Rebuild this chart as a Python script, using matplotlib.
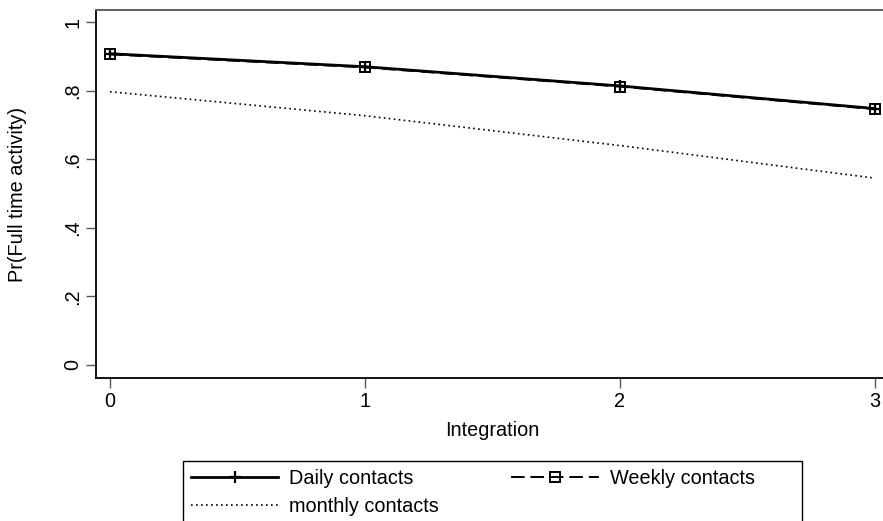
import matplotlib
matplotlib.use("Agg")
import matplotlib.pyplot as plt
from matplotlib.patches import Rectangle

# data
integration = [0, 1, 2, 3]
daily = [0.908, 0.870, 0.814, 0.748]
weekly = [0.906, 0.868, 0.812, 0.746]
monthly = [0.797, 0.727, 0.640, 0.545]
yticks = [0, 0.2, 0.4, 0.6, 0.8, 1]
ytick_labels = ["0", ".2", ".4", ".6", ".8", "1"]

plt.rcParams['font.family'] = ['Liberation Sans', 'DejaVu Sans']
fs = 14.3

fig = plt.figure(figsize=(8.83, 5.21), dpi=100)
ax = fig.add_axes([0.1087, 0.2745, 0.898, 0.706])

l_daily, = ax.plot(integration, daily, color="black", linewidth=2.0, marker="+",
                   markersize=9, markeredgewidth=1.6, label="Daily contacts", zorder=3)
l_weekly, = ax.plot(integration, weekly, color="black", linewidth=1.4, dashes=(7, 3),
                    marker="s", markersize=7, markerfacecolor="none", markeredgewidth=1.4,
                    label="Weekly contacts", zorder=4)
l_monthly, = ax.plot(integration, monthly, color="black", linewidth=1.2, dashes=(1, 2.0),
                     label="monthly contacts", zorder=2)

ax.set_xlim(-0.055, 3.055)
ax.set_ylim(-0.038, 1.035)
ax.set_xticks(integration)
ax.set_yticks(yticks)
ax.set_yticklabels(ytick_labels, rotation=90, va="center")
ax.tick_params(axis="both", labelsize=fs, length=7, width=1, color="#555555", pad=3)

for side in ["left", "bottom", "top"]:
    ax.spines[side].set_linewidth(1.3)
ax.spines["left"].set_color("black")
ax.spines["bottom"].set_color("black")
ax.spines["top"].set_color("#555555")
ax.spines["right"].set_visible(False)

ax.set_xlabel("Integration", fontsize=fs, labelpad=7)
ax.set_ylabel("Pr(Full time activity)", fontsize=fs, labelpad=26)

# column-wise fill: daily, monthly in col 1, weekly in col 2
leg = fig.legend([l_daily, l_monthly, l_weekly],
                 ["Daily contacts", "monthly contacts", "Weekly contacts"],
                 loc="upper left", bbox_to_anchor=(0.2072, 0.1152), ncol=2,
                 fontsize=fs, frameon=False, handlelength=4.4,
                 handletextpad=0.55, columnspacing=3.65, labelspacing=0.45,
                 borderpad=0.4, borderaxespad=0)

# legend frame (Stata style box, wider than the entries, cut by the bottom edge)
fig.patches.append(Rectangle((0.2072, -0.05), 0.7010, 0.1652, transform=fig.transFigure,
                             fill=False, edgecolor="black", linewidth=1.0))

fig.savefig("out.png", dpi=100)
